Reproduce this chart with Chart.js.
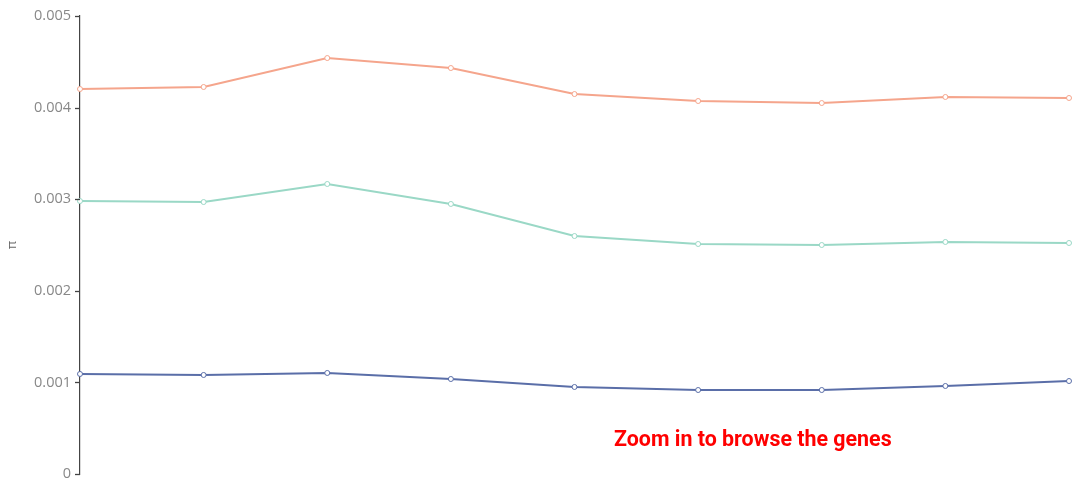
<!DOCTYPE html>
<html><head><meta charset="utf-8">
<script src="https://cdn.jsdelivr.net/npm/chart.js@4/dist/chart.umd.min.js"></script>
<style>
html,body{margin:0;padding:0;background:#fff;}
#wrap{position:relative;width:1074px;height:488px;}
#note{position:absolute;left:614px;top:426px;font-family:Roboto;font-weight:700;font-size:21.4px;color:#ff0000;white-space:nowrap;}
</style></head>
<body>
<div id="wrap"><canvas id="c" width="1074" height="488"></canvas><div id="note">Zoom in to browse the genes</div></div>
<script>
const categories = ['1','2','3','4','5','6','7','8','9'];
const seriesOrange = [0.004203,0.004225,0.004541,0.004432,0.004148,0.004072,0.004050,0.004116,0.004105];
const seriesGreen  = [0.002980,0.002969,0.003166,0.002948,0.002598,0.002511,0.002500,0.002533,0.002522];
const seriesBlue   = [0.001092,0.001081,0.001103,0.001037,0.000950,0.000917,0.000917,0.000961,0.001015];
const yTicks = [0,0.001,0.002,0.003,0.004,0.005];
const yTickLabels = ['0','0.001','0.002','0.003','0.004','0.005'];

function ds(data,color){
  return {data:data,borderColor:color,backgroundColor:'#fff',borderWidth:2,pointRadius:2.5,pointBorderWidth:1,pointBackgroundColor:'#fff',pointBorderColor:color,tension:0,clip:false};
}
const tickMarks = {
  id:'tickMarks',
  afterDraw(chart){
    const s = chart.scales.y, ctx = chart.ctx;
    const x = chart.chartArea.left;
    ctx.save();
    ctx.strokeStyle = '#444'; ctx.lineWidth = 1.3;
    yTicks.forEach(v=>{
      const y = Math.round(s.getPixelForValue(v)) + 0.5;
      ctx.beginPath(); ctx.moveTo(x-5,y); ctx.lineTo(x,y); ctx.stroke();
    });
    ctx.restore();
  }
};
new Chart(document.getElementById('c'),{
  type:'line',
  data:{labels:categories,datasets:[ds(seriesOrange,'#f5a58c'),ds(seriesGreen,'#9ad8c6'),ds(seriesBlue,'#5a6ea8')]},
  options:{
    responsive:false,animation:false,
    layout:{padding:{top:16,bottom:14,right:1,left:0}},
    plugins:{legend:{display:false},tooltip:{enabled:false}},
    scales:{
      x:{display:false,offset:false},
      y:{min:0,max:0.005,
        afterBuildTicks:(s)=>{s.ticks=yTicks.map(v=>({value:v}));},
        afterFit:(s)=>{s.width=80;},
        border:{display:true,color:'#444',width:1.2},
        grid:{display:true,drawOnChartArea:false,drawTicks:true,tickLength:5,color:'rgba(0,0,0,0)',tickColor:'rgba(0,0,0,0)'},
        ticks:{color:'#888',padding:4,font:{family:'Open Sans',size:14.5},callback:(v,i)=>yTickLabels[i]},
        title:{display:true,text:'π',color:'#666',font:{family:'Open Sans',size:13},padding:{top:4,bottom:0}}
      }
    }
  },
  plugins:[tickMarks]
});
</script>
</body></html>
